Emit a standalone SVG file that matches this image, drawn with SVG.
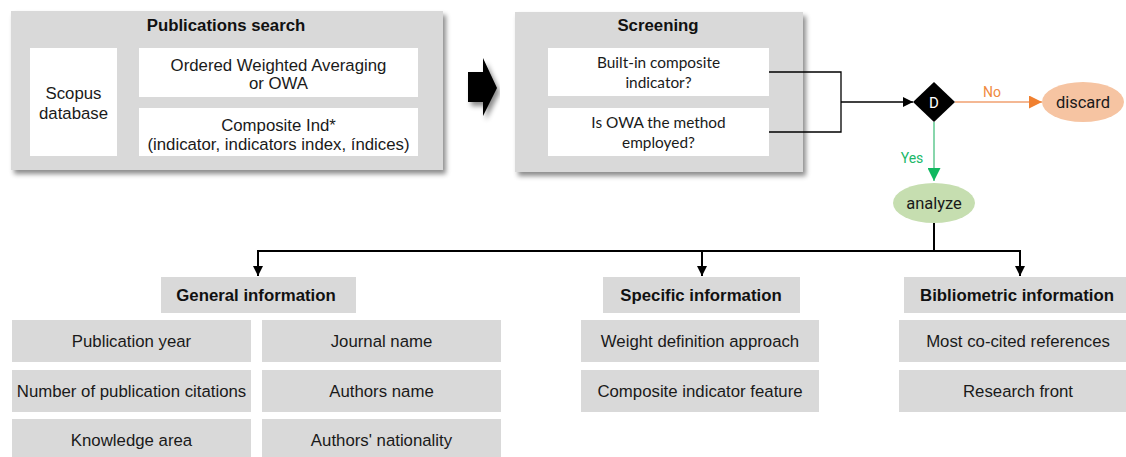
<svg xmlns="http://www.w3.org/2000/svg" width="1126" height="457" viewBox="0 0 1126 457">
<defs>
<filter id="sh" x="-5%" y="-5%" width="115%" height="125%">
<feDropShadow dx="3" dy="4" stdDeviation="2.5" flood-color="#000" flood-opacity="0.45"/>
</filter>
<marker id="ab" viewBox="0 0 10 10" refX="10" refY="5" markerWidth="10" markerHeight="10" markerUnits="userSpaceOnUse" orient="auto"><path d="M0,0 L10,5 L0,10 z" fill="#000"/></marker>
<marker id="ao" viewBox="0 0 10 10" refX="10" refY="5" markerWidth="13" markerHeight="13" markerUnits="userSpaceOnUse" orient="auto"><path d="M0,0 L10,5 L0,10 z" fill="#f08030"/></marker>
<marker id="ag" viewBox="0 0 10 10" refX="10" refY="5" markerWidth="13" markerHeight="13" markerUnits="userSpaceOnUse" orient="auto"><path d="M0,0 L10,5 L0,10 z" fill="#10b860"/></marker>
</defs>
<style>
.panel{fill:#d9d9d9}
.wbox{fill:#fff}
.gbox{fill:#d9d9d9}
.a{font-family:"Liberation Sans",Arial,sans-serif;font-size:16.8px;fill:#1a1a1a;text-anchor:middle}
.ab{font-family:"Liberation Sans",Arial,sans-serif;font-size:16.8px;font-weight:bold;fill:#111;text-anchor:middle}
.c{font-family:Lato,"Open Sans",sans-serif;font-size:15.4px;fill:#1a1a1a;text-anchor:middle}
.r{font-family:Roboto,sans-serif;text-anchor:middle}
.ln{fill:none;stroke:#000;stroke-width:1.3}
</style>
<rect width="1126" height="457" fill="#fff"/>

<g id="publications-search">
<rect class="panel" x="11" y="11" width="432" height="159" filter="url(#sh)"/>
<text class="ab" x="226" y="31">Publications search</text>
<g id="scopus"><rect class="wbox" x="30" y="48" width="87" height="108"/>
<text class="a" x="73.5" y="99">Scopus</text><text class="a" x="73.5" y="119">database</text></g>
<g id="owa"><rect class="wbox" x="139" y="48" width="279" height="49"/>
<text class="a" x="278.5" y="71">Ordered Weighted Averaging</text><text class="a" x="278.5" y="89">or OWA</text></g>
<g id="composite"><rect class="wbox" x="139" y="108" width="279" height="48"/>
<text class="a" x="278.5" y="131">Composite Ind*</text><text class="a" x="278.5" y="150">(indicator, indicators index, índices)</text></g>
</g>

<g id="block-arrow">
<path d="M468,72 L483,72 L483,58 L497,88 L483,116 L483,102 L468,102 z" fill="#000" filter="url(#sh)"/>
</g>

<g id="screening">
<rect class="panel" x="515" y="12" width="288" height="160" filter="url(#sh)"/>
<text class="ab" x="658" y="31">Screening</text>
<g id="builtin"><rect class="wbox" x="548" y="48" width="221" height="48"/>
<text class="c" x="658.5" y="68">Built-in composite</text><text class="c" x="658.5" y="88">indicator?</text></g>
<g id="isowa"><rect class="wbox" x="548" y="108" width="221" height="48"/>
<text class="c" x="658.5" y="128">Is OWA the method</text><text class="c" x="658.5" y="148">employed?</text></g>
</g>

<g id="connectors">
<path class="ln" d="M769,72 H841 V132 H769"/>
<path class="ln" d="M841,102 H913" marker-end="url(#ab)"/>
<path d="M955,102 H1042" fill="none" stroke="#f0a070" stroke-width="1.5" marker-end="url(#ao)"/>
<text class="r" x="992" y="97" font-size="14" fill="#f08a40">No</text>
<path d="M934,122 V181" fill="none" stroke="#60c890" stroke-width="1.5" marker-end="url(#ag)"/>
<text class="r" x="912" y="163" font-size="14" fill="#20b868">Yes</text>
<path d="M934,223 V251" fill="none" stroke="#000" stroke-width="2"/>
<path d="M258,251 H1020" fill="none" stroke="#000" stroke-width="2"/>
<path d="M258,250 V276" fill="none" stroke="#000" stroke-width="2" marker-end="url(#ab)"/>
<path d="M702,250 V276" fill="none" stroke="#000" stroke-width="2" marker-end="url(#ab)"/>
<path d="M1020,250 V276" fill="none" stroke="#000" stroke-width="2" marker-end="url(#ab)"/>
</g>

<g id="decision">
<path d="M934,82 L955,102 L934,122 L913,102 z" fill="#000"/>
<text class="r" x="934" y="107.5" font-size="15" fill="#fff">D</text>
</g>
<g id="discard">
<ellipse cx="1083" cy="102" rx="41" ry="20" fill="#f6c4a2"/>
<text class="r" x="1083" y="108" font-size="16.5" fill="#1a1a1a">discard</text>
</g>
<g id="analyze">
<ellipse cx="934" cy="203" rx="41" ry="20" fill="#c6deb0"/>
<text class="r" x="934" y="209" font-size="16.5" fill="#1a1a1a">analyze</text>
</g>

<g id="general-information">
<rect class="gbox" x="161" y="277" width="195" height="36"/>
<text class="ab" x="256" y="301">General information</text>
</g>
<g id="publication-year"><rect class="gbox" x="12" y="320" width="239" height="42"/><text class="a" x="131.5" y="347">Publication year</text></g>
<g id="journal-name"><rect class="gbox" x="262" y="320" width="239" height="42"/><text class="a" x="381.5" y="347">Journal name</text></g>
<g id="citations"><rect class="gbox" x="12" y="370" width="239" height="42"/><text class="a" x="131.5" y="397">Number of publication citations</text></g>
<g id="authors-name"><rect class="gbox" x="262" y="370" width="239" height="42"/><text class="a" x="381.5" y="397">Authors name</text></g>
<g id="knowledge-area"><rect class="gbox" x="12" y="419" width="239" height="42"/><text class="a" x="131.5" y="446">Knowledge area</text></g>
<g id="nationality"><rect class="gbox" x="262" y="419" width="239" height="42"/><text class="a" x="381.5" y="446">Authors' nationality</text></g>

<g id="specific-information">
<rect class="gbox" x="603" y="277" width="197" height="36"/>
<text class="ab" x="701" y="301">Specific information</text>
</g>
<g id="weight"><rect class="gbox" x="581" y="320" width="238" height="42"/><text class="a" x="700" y="347">Weight definition approach</text></g>
<g id="feature"><rect class="gbox" x="581" y="370" width="238" height="42"/><text class="a" x="700" y="397">Composite indicator feature</text></g>

<g id="bibliometric-information">
<rect class="gbox" x="904" y="277" width="230" height="36"/>
<text class="ab" x="1017" y="301">Bibliometric information</text>
</g>
<g id="cocited"><rect class="gbox" x="899" y="320" width="235" height="42"/><text class="a" x="1018" y="347">Most co-cited references</text></g>
<g id="research-front"><rect class="gbox" x="899" y="370" width="235" height="42"/><text class="a" x="1018" y="397">Research front</text></g>
</svg>
